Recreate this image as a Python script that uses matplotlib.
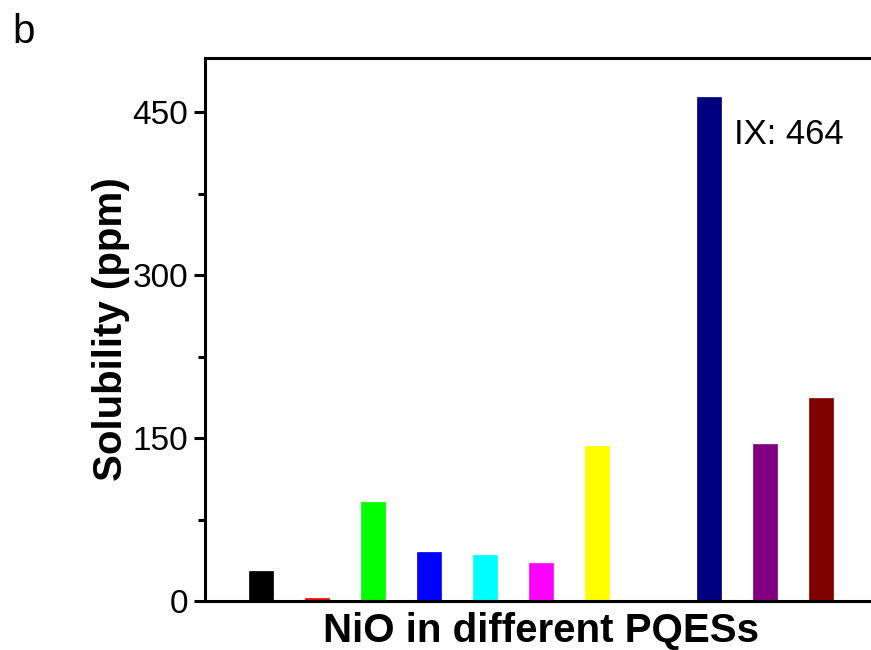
import numpy as np
import matplotlib
matplotlib.use('Agg')
import matplotlib.pyplot as plt
from matplotlib.ticker import MultipleLocator

plt.rcParams['font.family'] = ['Liberation Sans', 'DejaVu Sans']

# solubility of NiO in the PQESs I..XI (VIII not shown)
positions = [1, 2, 3, 4, 5, 6, 7, 9, 10, 11]
solubility = [28, 3, 91, 45, 42, 35, 143, 464, 145, 187]
colors = ['#000000', '#ff0000', '#00ff00', '#0000ff', '#00ffff',
          '#ff00ff', '#ffff00', '#000080', '#800080', '#800000']

fig = plt.figure(figsize=(8.71, 6.5), dpi=100)
ax = fig.add_axes([205 / 871, 49 / 650, 672 / 871, 543 / 650])

ax.bar(positions, solubility, width=0.42, color=colors, edgecolor=colors, linewidth=0.5)

ax.set_xlim(0, 12)
ax.set_ylim(0, 500)
ax.set_xticks([])
ax.yaxis.set_major_locator(MultipleLocator(150))
ax.yaxis.set_minor_locator(MultipleLocator(75))
ax.tick_params(axis='y', which='major', direction='out', length=8, width=2.2, labelsize=24, pad=4)
ax.tick_params(axis='y', which='minor', direction='out', length=5, width=2.2)
for s in ax.spines.values():
    s.set_linewidth(2.2)

ax.set_xlabel('NiO in different PQESs', fontsize=29, fontweight='bold', labelpad=8)
ax.set_ylabel('Solubility (ppm)', fontsize=29, fontweight='bold', labelpad=2)

ax.text(9.45, 421, 'IX: 464', fontsize=25, ha='left', va='baseline')
fig.text(12 / 871, 1 - 43 / 650, 'b', fontsize=29, ha='left', va='baseline')

fig.savefig('out.png', dpi=100)
